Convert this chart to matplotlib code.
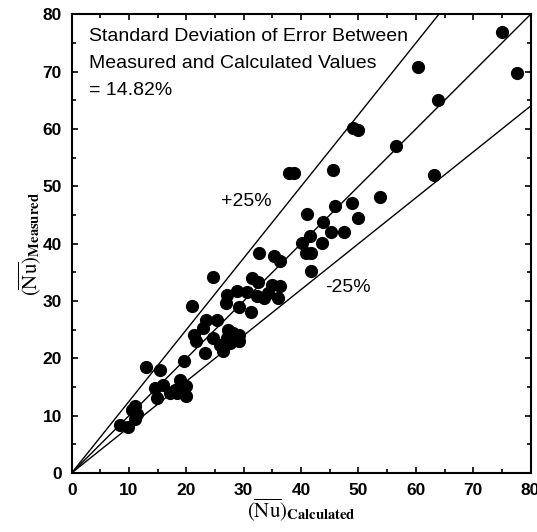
import matplotlib
matplotlib.use("Agg")
import matplotlib.pyplot as plt
import numpy as np

plt.rcParams['font.family'] = ['Liberation Sans', 'DejaVu Sans']
plt.rcParams['mathtext.fontset'] = 'stix'

# calculated vs measured Nusselt numbers
nu_calc = [75.1, 77.6, 60.4, 63.8, 49.1, 50.0, 56.5, 37.9, 38.8, 45.5,
           63.2, 53.7, 48.9, 45.9, 41.1, 49.9, 43.9, 41.5, 45.2, 47.4,
           40.1, 43.6, 40.8, 41.8, 41.8, 32.7, 35.2, 36.4, 24.6, 31.5,
           32.5, 34.9, 36.3, 20.9, 27.0, 28.8, 30.5, 32.3, 33.5, 34.3,
           36.0, 26.9, 29.2, 31.2, 23.5, 25.4, 22.9, 21.4, 21.7, 24.7,
           27.3, 27.0, 28.2, 29.1, 25.9, 26.3, 27.6, 29.1, 23.2, 19.6,
           13.0, 15.4, 14.5, 14.8, 16.0, 17.1, 18.0, 18.9, 18.9, 19.9,
           19.9, 18.3, 11.0, 10.5, 11.3, 11.0, 8.4, 9.8]
nu_meas = [76.9, 69.7, 70.8, 65.0, 60.1, 59.8, 57.0, 52.4, 52.4, 52.8,
           51.9, 48.1, 47.1, 46.5, 45.2, 44.5, 43.8, 41.3, 42.0, 42.0,
           40.1, 40.1, 38.3, 38.3, 35.2, 38.3, 37.9, 37.0, 34.2, 34.0,
           33.3, 32.8, 32.7, 29.2, 31.1, 31.7, 31.5, 30.8, 30.5, 31.4,
           30.5, 29.7, 29.0, 28.1, 26.7, 26.6, 25.3, 24.0, 23.0, 23.5,
           25.0, 23.5, 24.4, 24.1, 22.4, 21.2, 22.7, 23.0, 21.0, 19.6,
           18.4, 17.9, 14.8, 13.1, 15.4, 14.0, 14.5, 16.3, 14.8, 15.1,
           13.4, 14.0, 11.7, 11.0, 10.2, 9.4, 8.4, 8.1]

ref_slopes = [1.0, 1.25, 1 / 1.25]

fig = plt.figure(figsize=(5.37, 5.32), dpi=100)
ax = fig.add_axes([0.1335, 0.111, 0.8545, 0.862])

xx = np.array([0, 80])
for k in ref_slopes:
    ax.plot(xx, k * xx, color='black', lw=1.0)

ax.scatter(nu_calc, nu_meas, s=72, color='black', zorder=3)

ax.set_xlim(0, 80)
ax.set_ylim(0, 80)
ax.set_xticks(np.arange(0, 81, 10))
ax.set_yticks(np.arange(0, 81, 10))
ax.set_xticks(np.arange(5, 80, 10), minor=True)
ax.set_yticks(np.arange(5, 80, 10), minor=True)
ax.tick_params(which='both', direction='in', top=True, right=True, width=1.2)
ax.tick_params(which='major', length=4, labelsize=12.5, pad=7)
ax.tick_params(which='minor', length=3)
for lab in ax.get_xticklabels() + ax.get_yticklabels():
    lab.set_fontweight('bold')
for sp in ax.spines.values():
    sp.set_linewidth(1.5)

ax.text(3.1, 76.2, 'Standard Deviation of Error Between', fontsize=14, va='center')
ax.text(3.1, 71.4, 'Measured and Calculated Values', fontsize=14, va='center')
ax.text(3.1, 66.7, '= 14.82%', fontsize=14, va='center')
ax.text(30.5, 47.4, '+25%', fontsize=14, ha='center', va='center')
ax.text(48.2, 32.3, '-25%', fontsize=14, ha='center', va='center')

ax.set_xlabel(r'$(\overline{\mathrm{Nu}})_{\mathbf{Calculated}}$', fontsize=15, labelpad=-1)
ax.set_ylabel(r'$(\overline{\mathrm{Nu}})_{\mathbf{Measured}}$', fontsize=15, labelpad=0)

fig.savefig('out.png', dpi=100)
